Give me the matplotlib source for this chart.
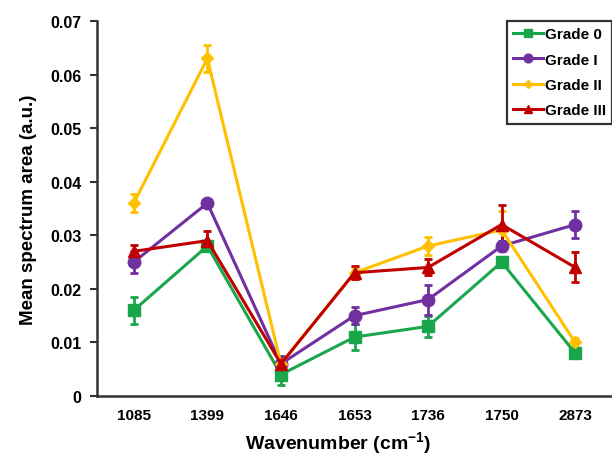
import matplotlib
matplotlib.use("Agg")
import matplotlib.pyplot as plt
from matplotlib.lines import Line2D
import numpy as np

plt.rcParams['font.family'] = ['Liberation Sans', 'DejaVu Sans']
plt.rcParams['font.weight'] = 'bold'
plt.rcParams['mathtext.fontset'] = 'custom'
plt.rcParams['mathtext.rm'] = 'Liberation Sans:bold'
plt.rcParams['mathtext.bf'] = 'Liberation Sans:bold'

wavenumbers = ["1085", "1399", "1646", "1653", "1736", "1750", "2873"]

grade0 = [0.016, 0.028, 0.004, 0.011, 0.013, 0.025, 0.008]
grade0_err = [0.0025, 0.0005, 0.002, 0.0025, 0.0019, 0.0005, 0.0006]

grade1 = [0.025, 0.036, 0.006, 0.015, 0.018, 0.028, 0.032]
grade1_err = [0.002, 0.0005, 0.0015, 0.0016, 0.0028, 0.001, 0.0026]

grade2 = [0.036, 0.063, 0.006, 0.023, 0.028, 0.031, 0.010]
grade2_err = [0.0017, 0.0025, 0.001, 0.001, 0.0017, 0.0035, 0.0008]

grade3 = [0.027, 0.029, 0.006, 0.023, 0.024, 0.032, 0.024]
grade3_err = [0.0012, 0.0018, 0.001, 0.0012, 0.0015, 0.0036, 0.0028]

labels = ["Grade 0", "Grade I", "Grade II", "Grade III"]
colors = ["#1aa64b", "#7030a0", "#ffc000", "#c00000"]
markers = ["s", "o", "D", "^"]
msizes = [8.5, 9, 6.5, 9]

fig = plt.figure(figsize=(6.12, 4.56), dpi=100)
ax = fig.add_axes([0.1585, 0.1294, 0.8415, 0.8224])

x = np.arange(len(wavenumbers))
series = [(grade0, grade0_err), (grade1, grade1_err), (grade2, grade2_err), (grade3, grade3_err)]
handles = []
for (vals, errs), lab, col, mk, ms in zip(series, labels, colors, markers, msizes):
    ax.errorbar(x, vals, yerr=errs, color=col, marker=mk, markersize=ms, linewidth=2.2,
                elinewidth=2, capsize=3, capthick=2)
    # legend handle without the error bar, smaller marker
    handles.append(Line2D([], [], color=col, marker=mk, markersize=ms * 0.7, linewidth=2.2, label=lab))

ax.set_xlim(-0.5, len(wavenumbers) - 0.5)
ax.set_ylim(0, 0.07)
ax.set_xticks(x)
ax.set_xticklabels(wavenumbers)
yt = np.arange(0, 0.0701, 0.01)
ax.set_yticks(yt)
ax.set_yticklabels(["0"] + ["%.2f" % v for v in yt[1:]])
ax.tick_params(axis='x', length=0, pad=9, labelsize=11)
ax.tick_params(axis='y', direction='out', length=5, width=1.5, color='#333333', labelsize=11.5, pad=6)

for s in ['top', 'right']:
    ax.spines[s].set_visible(False)
for s in ['left', 'bottom']:
    ax.spines[s].set_linewidth(1.8)
    ax.spines[s].set_color('#333333')

ax.set_xlabel(r"Wavenumber (cm$^{-1}$)", fontsize=14, fontweight='bold')
ax.xaxis.set_label_coords(0.468, -0.09)
ax.set_ylabel("Mean spectrum area (a.u.)", fontsize=13.5, fontweight='bold', labelpad=10)

leg = ax.legend(handles=handles, loc='upper right', bbox_to_anchor=(1.0, 1.0), borderaxespad=0,
                fancybox=False, edgecolor='black', fontsize=11, handlelength=2.0,
                handletextpad=0.1, labelspacing=0.75, borderpad=0.4)
leg.get_frame().set_linewidth(1.6)

fig.savefig("out.png", dpi=100)
